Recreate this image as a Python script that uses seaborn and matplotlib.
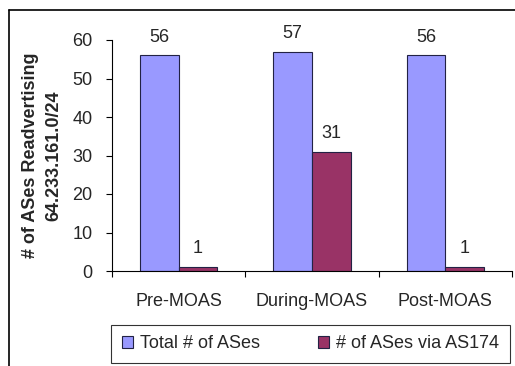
import pandas as pd
import numpy as np
import matplotlib.pyplot as plt
import seaborn as sns
from matplotlib.lines import Line2D

# values
phases = ["Pre-MOAS", "During-MOAS", "Post-MOAS"]
total_ases = [56, 57, 56]
via_as174 = [1, 31, 1]
series = ["Total # of ASes", "# of ASes via AS174"]
colors = ["#9999FF", "#993366"]

df = pd.DataFrame({
    "phase": phases * 2,
    "count": total_ases + via_as174,
    "series": [series[0]] * 3 + [series[1]] * 3,
})

sns.set_style("white")
plt.rcParams['font.family'] = ['Liberation Sans', 'DejaVu Sans']
fs = 13

fig = plt.figure(figsize=(5.15, 3.66), dpi=100)
ax = fig.add_axes([112 / 515, 1 - 271 / 366, 400 / 515, 231 / 366])

sns.barplot(data=df, x="phase", y="count", hue="series", order=phases,
            hue_order=series, palette=colors, saturation=1, width=0.58, gap=0,
            edgecolor="#222244", linewidth=0.8, ax=ax, legend=True)

# value labels
for cont in ax.containers:
    ax.bar_label(cont, padding=7, fontsize=fs)

ax.set_ylim(0, 60)
ax.set_yticks(range(0, 61, 10))
ax.set_xlim(-0.5, 2.5)
ax.set_xlabel("")
ax.set_ylabel("# of ASes Readvertising\n64.233.161.0/24", fontsize=fs,
              fontweight="bold", labelpad=7, linespacing=1.5)

ax.tick_params(axis="y", which="major", direction="out", length=4, width=0.8,
               labelsize=fs, left=True, color="black", pad=10)
ax.tick_params(axis="x", which="major", length=0, pad=16, labelsize=fs)
ax.set_xticks([-0.5, 0.5, 1.5, 2.5], minor=True)
ax.tick_params(axis="x", which="minor", direction="out", length=4, width=0.8,
               bottom=True, color="black")

for s in ["top", "right"]:
    ax.spines[s].set_visible(False)
for s in ["left", "bottom"]:
    ax.spines[s].set_color("black")
    ax.spines[s].set_linewidth(0.8)

handles, labels = ax.get_legend_handles_labels()
ax.legend_.remove()
leg = fig.legend(handles, labels, loc="center",
                 bbox_to_anchor=(310.5 / 515, 1 - 344 / 366),
                 ncol=2, frameon=True, fancybox=False,
                 edgecolor="black", fontsize=fs, handlelength=0.6, handleheight=0.6,
                 handletextpad=0.4, columnspacing=3.2, borderpad=0.6, borderaxespad=0)
leg.get_frame().set_linewidth(0.8)

# outer chart border (top and left visible)
fig.add_artist(Line2D([9 / 515, 1], [1 - 10 / 366, 1 - 10 / 366], color="black", lw=1.2))
fig.add_artist(Line2D([9 / 515, 9 / 515], [0, 1 - 10 / 366], color="black", lw=1.2))

fig.savefig("out.png", dpi=100)
